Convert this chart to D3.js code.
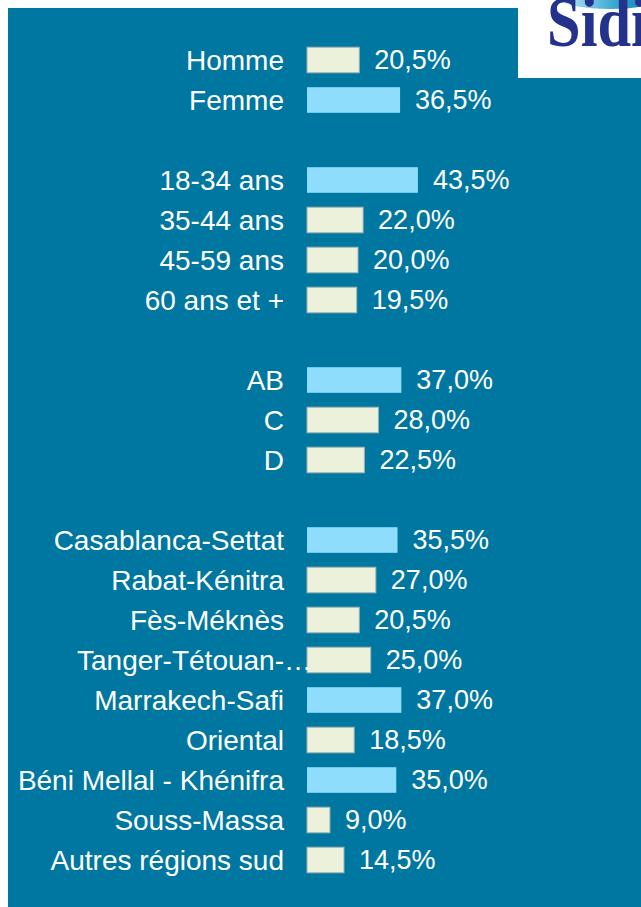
<!DOCTYPE html>
<meta charset="utf-8">
<script src="https://d3js.org/d3.v7.min.js"></script>
<style>
  body { margin: 0; background: #fff; }
  text { font-family: "Liberation Sans", Arial, sans-serif; }
</style>
<div id="my_dataviz"></div>
<script>

// categories (empty strings are the gaps between groups)
var categories = ["Homme", "Femme", "",
  "18-34 ans", "35-44 ans", "45-59 ans", "60 ans et +", "",
  "AB", "C", "D", "",
  "Casablanca-Settat", "Rabat-Kénitra", "Fès-Méknès", "Tanger-Tétouan-…",
  "Marrakech-Safi", "Oriental", "Béni Mellal - Khénifra", "Souss-Massa", "Autres régions sud"];

var values = [20.5, 36.5, null,
  43.5, 22.0, 20.0, 19.5, null,
  37.0, 28.0, 22.5, null,
  35.5, 27.0, 20.5, 25.0, 37.0, 18.5, 35.0, 9.0, 14.5];

var width = 641, height = 907;

var svg = d3.select("#my_dataviz").append("svg")
    .attr("width", width)
    .attr("height", height);

// blue panel
svg.append("rect")
  .attr("x", 8).attr("y", 8)
  .attr("width", width - 8).attr("height", height - 8)
  .attr("fill", "#0077a0");

// white logo box, top right
var defs = svg.append("defs");
defs.append("clipPath").attr("id", "logoclip")
  .append("rect").attr("x", 518).attr("y", 0).attr("width", 123).attr("height", 78);
var grad = defs.append("linearGradient").attr("id", "swoosh");
grad.append("stop").attr("offset", "0%").attr("stop-color", "#bfe6f5");
grad.append("stop").attr("offset", "60%").attr("stop-color", "#2aa3cf");
grad.append("stop").attr("offset", "100%").attr("stop-color", "#1a6fb0");

var logo = svg.append("g").attr("clip-path", "url(#logoclip)");
logo.append("rect").attr("x", 518).attr("y", 0).attr("width", 123).attr("height", 78).attr("fill", "#fff");
logo.append("ellipse").attr("cx", 610).attr("cy", 0).attr("rx", 48).attr("ry", 9).attr("fill", "url(#swoosh)");
logo.append("text")
  .attr("transform", "translate(547,46) scale(0.84,1)")
  .style("font-family", "'Liberation Serif', serif")
  .style("font-weight", "bold")
  .style("font-size", "72px")
  .attr("fill", "#24328e")
  .text("Sidi");

var data = categories.map(function(c, i) { return {name: c, value: values[i], key: i}; });

var y = d3.scaleBand()
  .domain(data.map(function(d) { return d.key; }))
  .range([40, 880])
  .paddingInner(0.36)
  .paddingOuter(0.18);

var x = d3.scaleLinear()
  .domain([0, 10])
  .range([307, 332.5]);

var rows = data.filter(function(d) { return d.value !== null; });

// bars
svg.append("g")
  .selectAll("rect")
  .data(rows)
  .enter().append("rect")
    .attr("x", x(0))
    .attr("y", function(d) { return y(d.key); })
    .attr("width", function(d) { return x(d.value) - x(0); })
    .attr("height", y.bandwidth())
    .attr("fill", function(d) { return d.value >= 35 ? "#8eddfd" : "#ecf1dc"; })
    .attr("stroke", function(d) { return d.value >= 35 ? "none" : "#9fb3ad"; })
    .attr("stroke-width", 1);

// category labels
svg.append("g")
  .selectAll("text")
  .data(rows)
  .enter().append("text")
    .attr("x", function(d) { return d.name.slice(-1) === "…" ? 312 : 284; })
    .attr("y", function(d) { return y(d.key) + y.bandwidth() / 2; })
    .attr("dy", "0.34em")
    .attr("text-anchor", "end")
    .attr("fill", "#fff")
    .style("font-size", "28px")
    .text(function(d) { return d.name; });

// value labels
svg.append("g")
  .selectAll("text")
  .data(rows)
  .enter().append("text")
    .attr("x", function(d) { return x(d.value) + 15; })
    .attr("y", function(d) { return y(d.key) + y.bandwidth() / 2; })
    .attr("dy", "0.34em")
    .attr("fill", "#fff")
    .style("font-size", "27px")
    .text(function(d) { return d.value.toFixed(1).replace(".", ",") + "%"; });

</script>
